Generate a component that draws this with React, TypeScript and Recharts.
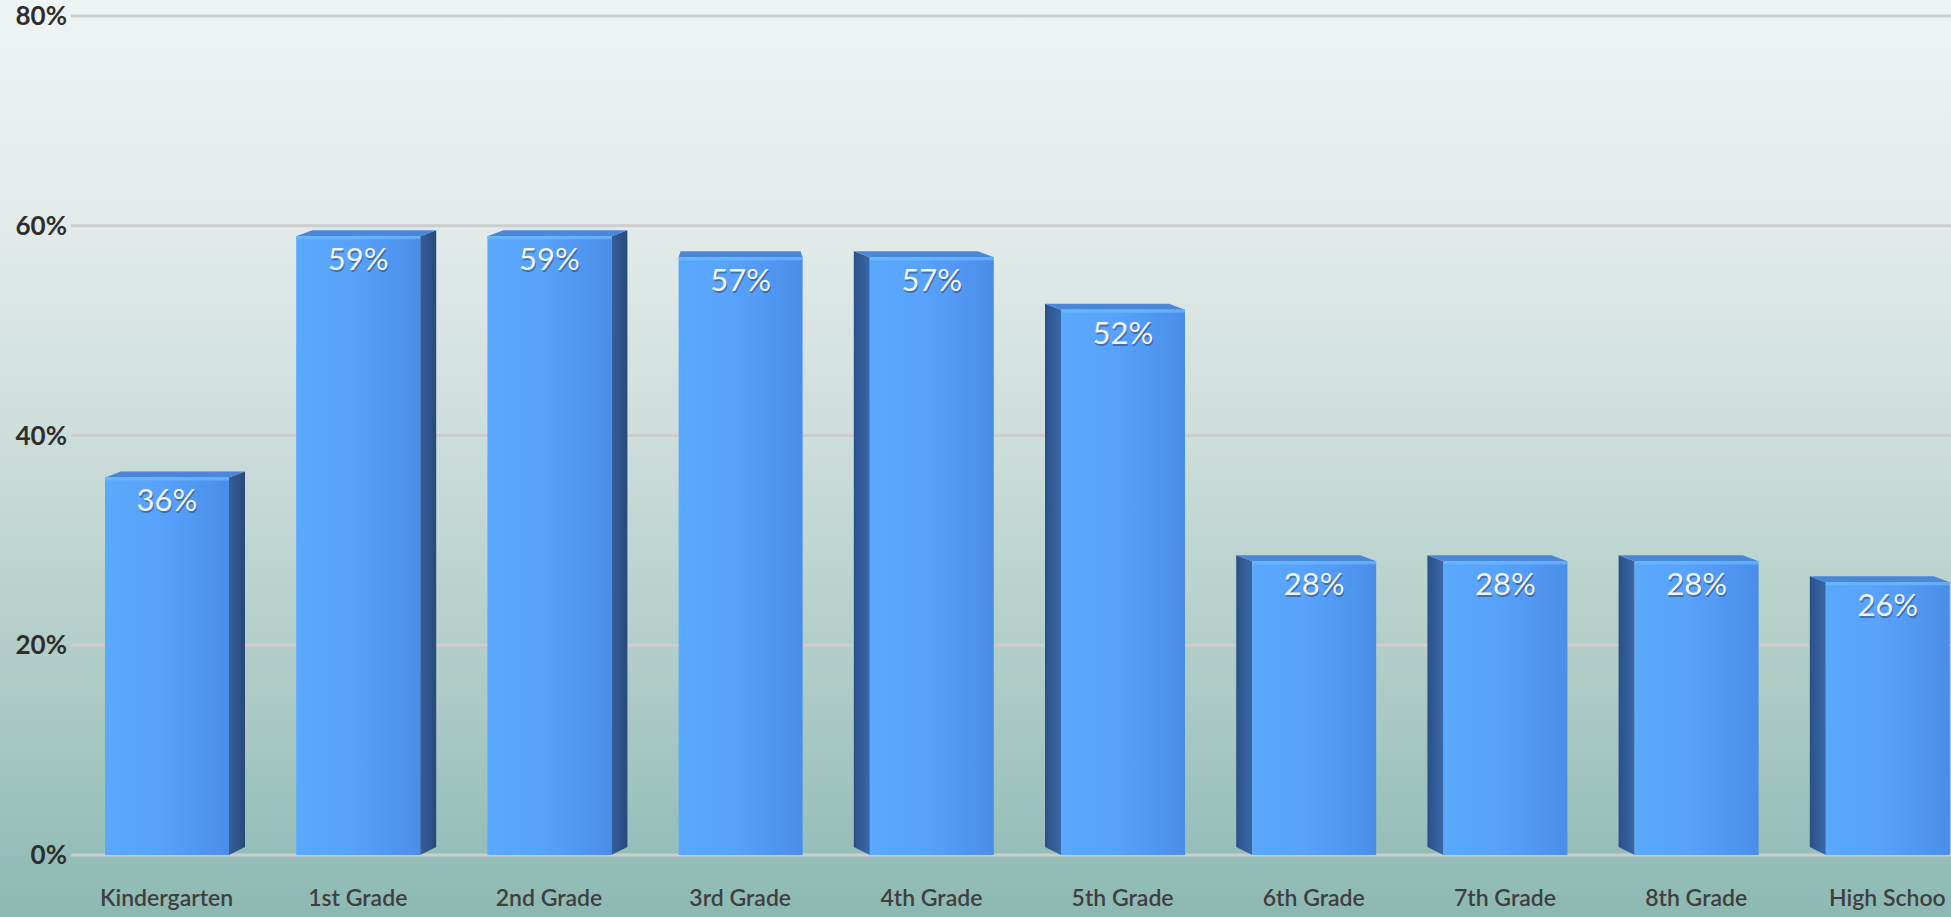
import React from 'react';
import { BarChart, Bar, XAxis, YAxis, CartesianGrid, LabelList } from 'recharts';

const categories = [
  'Kindergarten',
  '1st Grade',
  '2nd Grade',
  '3rd Grade',
  '4th Grade',
  '5th Grade',
  '6th Grade',
  '7th Grade',
  '8th Grade',
  'High Schoo',
];
const values = [36, 59, 59, 57, 57, 52, 28, 28, 28, 26];
const yTicks = [0, 20, 40, 60, 80];

const data = categories.map((name, i) => ({ name, value: values[i] }));

const FONT = 'Lato, "Open Sans", sans-serif';

const Bar3D = (props: any) => {
  const { x, y, width, height, index } = props;
  if (width == null || height == null) return null;
  const side = 16;
  const lift = 6;
  const dir = index < 3 ? 1 : index > 3 ? -1 : 0;
  const gid = `front-${index}`;
  const sid = `side-${index}`;
  let sidePts = '';
  let topPts = '';
  if (dir === 1) {
    sidePts = `${x + width},${y} ${x + width + side},${y - lift} ${x + width + side},${y + height - lift - 2} ${x + width},${y + height}`;
    topPts = `${x},${y} ${x + side},${y - lift} ${x + width + side},${y - lift} ${x + width},${y}`;
  } else if (dir === -1) {
    sidePts = `${x},${y} ${x - side},${y - lift} ${x - side},${y + height - lift - 2} ${x},${y + height}`;
    topPts = `${x},${y} ${x - side},${y - lift} ${x + width - side},${y - lift} ${x + width},${y}`;
  } else {
    topPts = `${x},${y} ${x + 2},${y - lift} ${x + width - 2},${y - lift} ${x + width},${y}`;
  }
  return (
    <g>
      <defs>
        <linearGradient id={gid} x1="0" y1="0" x2="1" y2="0">
          <stop offset="0%" stopColor="#5aa9fd" />
          <stop offset="45%" stopColor="#58a2fb" />
          <stop offset="100%" stopColor="#4a8de9" />
        </linearGradient>
        <linearGradient id={sid} x1="0" y1="0" x2="1" y2="0">
          <stop offset="0%" stopColor={dir === 1 ? '#355f98' : '#2b5088'} />
          <stop offset="100%" stopColor={dir === 1 ? '#284a7a' : '#3a68a8'} />
        </linearGradient>
      </defs>
      {sidePts && <polygon points={sidePts} fill={`url(#${sid})`} />}
      <polygon points={topPts} fill="#4a87d8" />
      <rect x={x} y={y} width={width} height={height} fill={`url(#${gid})`} />
      <rect x={x} y={y} width={width} height={3} fill="#6cbaff" opacity={0.7} />
    </g>
  );
};

const ValueLabel = (props: any) => {
  const { x, y, width, value } = props;
  const cx = x + width / 2;
  const ty = y + 34;
  return (
    <g>
      <text x={cx + 1} y={ty + 2} textAnchor="middle" fontSize={31} fontFamily={FONT} fill="rgba(30,50,80,0.45)">
        {`${value}%`}
      </text>
      <text x={cx} y={ty} textAnchor="middle" fontSize={31} fontFamily={FONT} fill="#f1f3f4">
        {`${value}%`}
      </text>
    </g>
  );
};

const XTick = (props: any) => {
  const { x, y, payload } = props;
  return (
    <text x={x} y={y + 43} textAnchor="middle" fontSize={23} fontWeight={600} fontFamily={FONT} fill="#3f3f3f">
      {payload.value}
    </text>
  );
};

const YTick = (props: any) => {
  const { x, y, payload } = props;
  return (
    <text x={x - 4} y={y + 9} textAnchor="end" fontSize={26} fontWeight={700} fontFamily={FONT} fill="#2e2e2e">
      {`${payload.value}%`}
    </text>
  );
};

export default function App() {
  return (
    <div
      style={{
        position: 'fixed',
        top: 0,
        left: 0,
        width: 1951,
        height: 917,
        overflow: 'hidden',
        background:
          'linear-gradient(to bottom, #eff4f4 0%, #e2ebea 25%, #cadcd9 50%, #aecbc6 75%, #8db9b3 100%)',
      }}
    >
      <BarChart
        width={1985}
        height={917}
        data={data}
        margin={{ top: 16, right: 2, left: 0, bottom: 0 }}
        barSize={124}
      >
        <CartesianGrid horizontal vertical={false} stroke="#cdcdcd" strokeWidth={3} />
        <XAxis
          dataKey="name"
          interval={0}
          tickLine={false}
          axisLine={false}
          height={62}
          tick={(p: any) => <XTick {...p} />}
        />
        <YAxis
          domain={[0, 80]}
          ticks={yTicks}
          width={71}
          tickLine={false}
          axisLine={false}
          tickSize={0}
          tickMargin={0}
          tick={(p: any) => <YTick {...p} />}
        />
        <Bar dataKey="value" isAnimationActive={false} shape={(p: any) => <Bar3D {...p} />}>
          <LabelList dataKey="value" content={(p: any) => <ValueLabel {...p} />} />
        </Bar>
      </BarChart>
    </div>
  );
}
